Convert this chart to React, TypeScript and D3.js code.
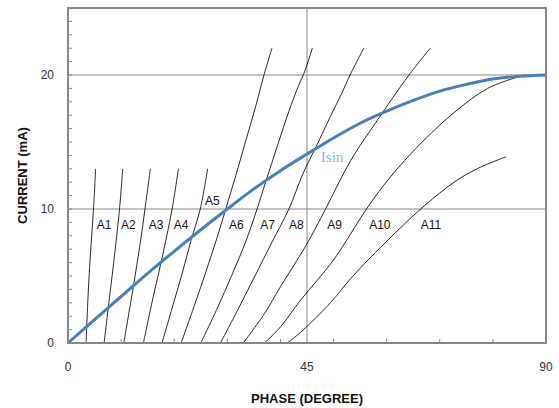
import * as d3 from "d3";

// tick labels
const xTickLabels = [0, 45, 90];
const yTickLabels = [0, 10, 20];
const xMinorTicks = [10, 20, 30, 40, 50, 60, 70, 80];
const yMinorTicks = d3.range(1, 25);

// blue reference curve (phase in degrees, current in mA)
const isinPhase = [0, 5, 10, 15, 20, 25, 30, 35, 40, 45, 50, 55, 60, 65, 70, 75, 80, 85, 90];
const isinCurrent = [0, 1.75, 3.47, 5.2, 6.84, 8.45, 10, 11.5, 12.86, 14.1, 15.3, 16.4, 17.3, 18.1, 18.8, 19.3, 19.7, 19.9, 20];

// measured curves A1..A11: [phase, current]
const curveNames = ["A1", "A2", "A3", "A4", "A5", "A6", "A7", "A8", "A9", "A10", "A11"];
const curvePoints: [number, number][][] = [
  [[3.4, 0], [3.8, 3.7], [4.2, 6.5], [4.8, 10], [5.2, 13]],
  [[6.8, 0], [7.6, 2.7], [8.6, 6], [9.7, 10], [10.3, 13]],
  [[10.5, 0], [12.3, 4.2], [13.5, 7.2], [14.5, 10], [15.5, 13]],
  [[14.2, 0], [15.8, 3], [17.4, 5.8], [18.6, 8], [19.6, 10], [20.8, 13]],
  [[17.7, 0], [19.6, 2.6], [21.5, 5.2], [23.2, 7.7], [24.9, 10], [26.3, 13]],
  [[21.3, 0], [23.8, 2.8], [26.2, 5.6], [28.1, 7.9], [29.7, 10], [31.6, 12.5], [33.4, 15], [35.3, 17.6], [36.9, 20], [38.4, 22]],
  [[25, 0], [28, 2.5], [31, 5.2], [33.5, 7.6], [35.6, 10], [37.2, 12], [39.5, 14.8], [41.6, 17.3], [43.4, 19.2], [44.6, 20.3], [46, 22]],
  [[28.7, 0], [32, 2.5], [35.2, 5], [38.5, 7.6], [41.6, 10], [44.2, 12.6], [46.9, 14.8], [49.4, 16.9], [51.5, 18.6], [53.1, 20], [55.7, 22]],
  [[33, 0], [37, 2.2], [40, 4.2], [44.7, 7.2], [48.5, 10], [53.2, 13.6], [58.9, 17], [61.5, 18.5], [64.2, 20], [68.2, 22]],
  [[37, 0], [40, 1.2], [43.8, 3.2], [50, 6.2], [56.2, 10], [60.1, 12.1], [64.5, 14.1], [68.5, 15.7], [72.7, 17.2], [79, 19], [85.9, 20]],
  [[41.3, 0], [43.8, 0.8], [49.4, 3], [53.2, 4.8], [57, 6.4], [60.8, 7.9], [66.4, 10], [72.7, 12], [77, 13], [82.5, 13.9]],
];

// where each curve's name sits (phase, current)
const labelPhase = [5.4, 10, 15.2, 19.9, 25.8, 30.3, 36.2, 41.6, 48.8, 56.7, 66.4];
const labelCurrent = [8.5, 8.5, 8.5, 8.5, 10.3, 8.5, 8.5, 8.5, 8.5, 8.5, 8.5];
const isinLabelAt = [47.6, 13.5];

export default function App() {
  const width = 559;
  const height = 408;
  const x = d3.scaleLinear().domain([0, 90]).range([68, 546]);
  const y = d3.scaleLinear().domain([0, 25]).range([343, 8]);

  const line = d3
    .line<[number, number]>()
    .x((d) => x(d[0]))
    .y((d) => y(d[1]))
    .curve(d3.curveCatmullRom);

  const isinData: [number, number][] = isinPhase.map((p, i) => [p, isinCurrent[i]]);

  const grid = "#868686";
  const font = "'Liberation Sans', Arial, sans-serif";

  return (
    <div style={{ position: "fixed", left: 0, top: 0 }}>
      <svg width={width} height={height} style={{ display: "block", background: "#fff" }}>
        {/* gridlines */}
        {[10, 20].map((v) => (
          <line key={"gy" + v} x1={x(0)} x2={x(90)} y1={y(v)} y2={y(v)} stroke={grid} strokeWidth={1} />
        ))}
        <line x1={x(45)} x2={x(45)} y1={y(0)} y2={y(25)} stroke={grid} strokeWidth={1} />

        {/* minor ticks */}
        {yMinorTicks.map((v) => (
          <line key={"ty" + v} x1={x(0)} x2={x(0) + 4} y1={y(v)} y2={y(v)} stroke={grid} strokeWidth={1} />
        ))}
        {xMinorTicks.map((v) => (
          <line key={"tx" + v} x1={x(v)} x2={x(v)} y1={y(0)} y2={y(0) - 4} stroke={grid} strokeWidth={1} />
        ))}

        {/* A curves */}
        {curvePoints.map((pts, i) => (
          <path key={curveNames[i]} d={line(pts) ?? ""} fill="none" stroke="#111" strokeWidth={0.9} />
        ))}

        {/* Isin */}
        <path d={line(isinData) ?? ""} fill="none" stroke="#4a7ebb" strokeWidth={3} />

        {/* frame */}
        <rect x={x(0)} y={y(25)} width={x(90) - x(0)} height={y(0) - y(25)} fill="none" stroke={grid} strokeWidth={2} />

        {/* curve labels */}
        {curveNames.map((n, i) => (
          <text key={"l" + n} x={x(labelPhase[i])} y={y(labelCurrent[i])} fontFamily={font} fontSize={12} fill="#111">
            {n}
          </text>
        ))}
        <text x={x(isinLabelAt[0])} y={y(isinLabelAt[1])} fontFamily="'Liberation Serif', serif" fontSize={15} fill="#8eb4e3">
          Isin
        </text>

        {/* tick labels */}
        {yTickLabels.map((v) => (
          <text key={"yl" + v} x={x(0) - 14} y={y(v)} dy="0.35em" textAnchor="end" fontFamily={font} fontSize={12} fill="#333">
            {v}
          </text>
        ))}
        {xTickLabels.map((v) => (
          <text key={"xl" + v} x={x(v)} y={371} textAnchor="middle" fontFamily={font} fontSize={12} fill="#333">
            {v}
          </text>
        ))}

        {/* axis titles */}
        <text x={x(45)} y={403} textAnchor="middle" fontFamily={font} fontWeight="bold" fontSize={13} fill="#111">
          PHASE (DEGREE)
        </text>
        <text
          transform={`translate(27,${(y(0) + y(25)) / 2}) rotate(-90)`}
          textAnchor="middle"
          fontFamily={font}
          fontWeight="bold"
          fontSize={13}
          fill="#111"
        >
          CURRENT (mA)
        </text>
      </svg>
    </div>
  );
}
